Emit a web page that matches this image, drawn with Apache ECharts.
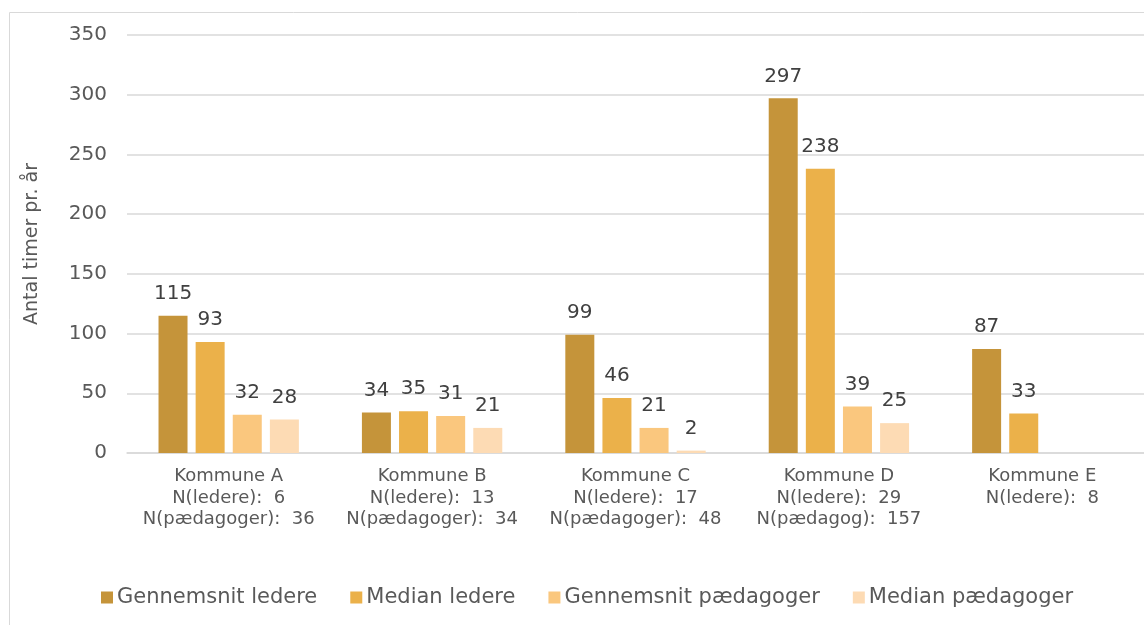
<!DOCTYPE html>
<html>
<head>
<meta charset="utf-8">
<script src="https://cdn.jsdelivr.net/npm/echarts@6/dist/echarts.min.js"></script>
<style>
  html, body { margin: 0; padding: 0; background: #fff; }
  #main { width: 1144px; height: 625px; }
</style>
</head>
<body>
<div id="main"></div>
<script>
// kategorier og værdier
var categories = [
  'Kommune A\nN(ledere):  6\nN(pædagoger):  36',
  'Kommune B\nN(ledere):  13\nN(pædagoger):  34',
  'Kommune C\nN(ledere):  17\nN(pædagoger):  48',
  'Kommune D\nN(ledere):  29\nN(pædagog):  157',
  'Kommune E\nN(ledere):  8'
];
var seriesNames = ['Gennemsnit ledere', 'Median ledere', 'Gennemsnit pædagoger', 'Median pædagoger'];
var gennemsnitLedere = [115, 34, 99, 297, 87];
var medianLedere = [93, 35, 46, 238, 33];
var gennemsnitPaedagoger = [32, 31, 21, 39, null];
var medianPaedagoger = [28, 21, 2, 25, null];
var colors = ['#C5943A', '#EBB14A', '#FAC77E', '#FDDBB4'];

var myChart = echarts.init(document.getElementById('main'));

function makeSeries(name, data, color) {
  return {
    name: name,
    type: 'bar',
    data: data,
    barWidth: 29,
    barGap: '28%',
    itemStyle: { color: color },
    label: {
      show: true,
      position: 'top',
      distance: 12,
      color: '#404040',
      fontSize: 20,
      fontFamily: 'DejaVu Sans'
    }
  };
}

var option = {
  color: colors,
  animation: false,
  graphic: [{
    type: 'rect',
    left: 7,
    top: 10,
    shape: { width: 1150, height: 630 },
    style: { fill: 'none', stroke: '#d9d9d9', lineWidth: 1 },
    silent: true
  }],
  grid: {
    left: 127,
    right: -8,
    top: 35,
    bottom: 172,
    containLabel: false
  },
  legend: {
    data: seriesNames,
    left: 96,
    top: 582,
    itemWidth: 12,
    itemHeight: 12,
    itemGap: 33,
    icon: 'rect',
    textStyle: {
      fontFamily: 'DejaVu Sans',
      fontSize: 21,
      color: '#595959',
      padding: [0, 0, 0, -1]
    }
  },
  xAxis: {
    type: 'category',
    data: categories,
    axisTick: { show: false },
    axisLine: { lineStyle: { color: '#d9d9d9', width: 1.5 } },
    axisLabel: {
      interval: 0,
      margin: 13,
      color: '#595959',
      fontSize: 18,
      lineHeight: 21.5,
      fontFamily: 'DejaVu Sans'
    }
  },
  yAxis: {
    type: 'value',
    min: 0,
    max: 350,
    interval: 50,
    name: 'Antal timer pr. år',
    nameLocation: 'middle',
    nameGap: 85,
    nameTextStyle: {
      color: '#595959',
      fontSize: 19,
      fontFamily: 'DejaVu Sans'
    },
    axisLine: { show: false },
    axisTick: { show: false },
    axisLabel: {
      color: '#595959',
      fontSize: 20,
      margin: 20,
      fontFamily: 'DejaVu Sans'
    },
    splitLine: { lineStyle: { color: '#d9d9d9', width: 1.5 } }
  },
  series: [
    makeSeries(seriesNames[0], gennemsnitLedere, colors[0]),
    makeSeries(seriesNames[1], medianLedere, colors[1]),
    makeSeries(seriesNames[2], gennemsnitPaedagoger, colors[2]),
    makeSeries(seriesNames[3], medianPaedagoger, colors[3])
  ]
};
myChart.setOption(option);
</script>
</body>
</html>
